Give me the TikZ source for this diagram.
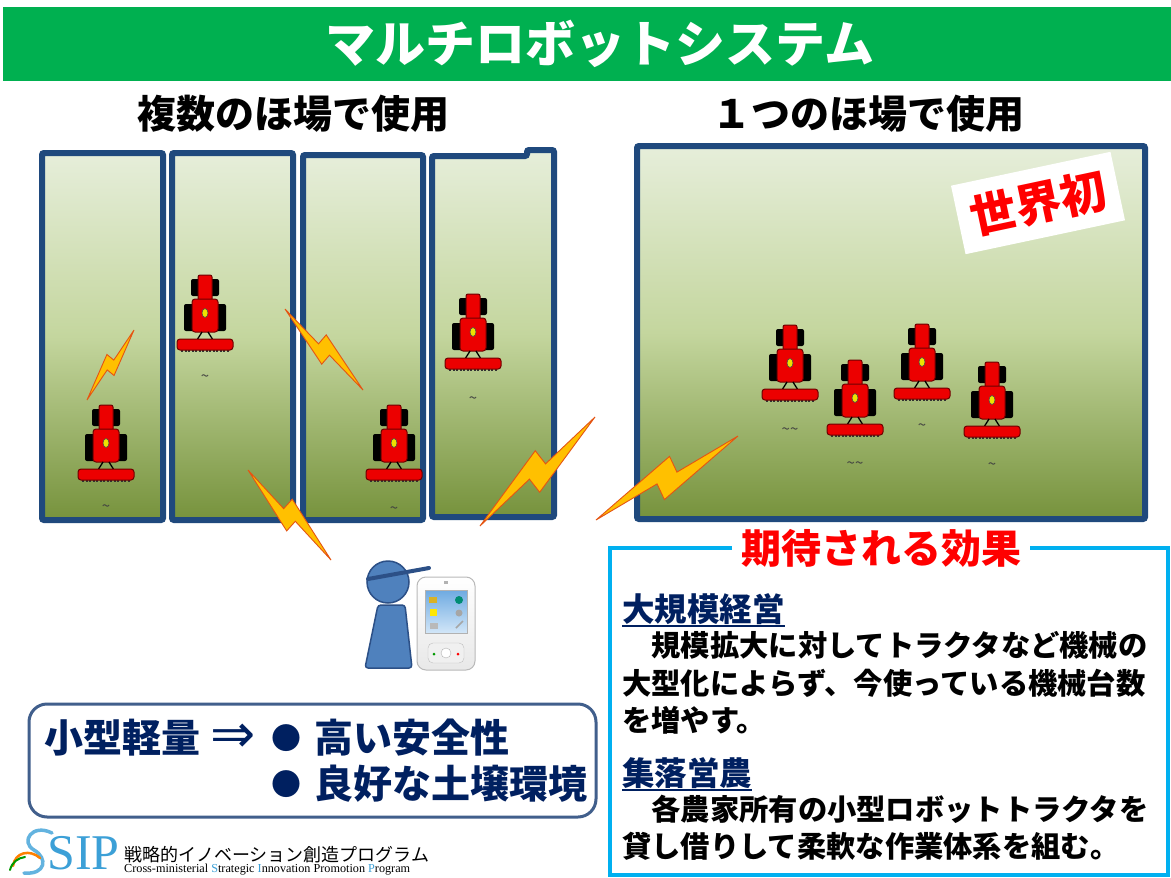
\documentclass[tikz,border=0pt]{standalone}
\usepackage{fontspec}
\setmainfont{Noto Sans CJK JP}
\newfontfamily\serifen{Liberation Serif}
\newfontfamily\symfont{DejaVu Sans}
\usetikzlibrary{calc}

\definecolor{titlegreen}{RGB}{0,176,80}
\definecolor{fieldblue}{RGB}{31,73,125}
\definecolor{fieldtop}{RGB}{230,238,218}
\definecolor{fieldmid}{RGB}{196,214,158}
\definecolor{fieldbot}{RGB}{118,146,60}
\definecolor{navy}{RGB}{0,32,96}
\definecolor{effcyan}{RGB}{0,176,240}
\definecolor{boltfill}{RGB}{255,192,0}
\definecolor{boltedge}{RGB}{228,84,20}
\definecolor{tracred}{RGB}{236,0,0}
\definecolor{tracedge}{RGB}{110,0,0}
\definecolor{persblue}{RGB}{79,129,189}
\definecolor{persedge}{RGB}{44,80,135}
\definecolor{boxedge}{RGB}{65,95,140}
\definecolor{sipblue}{RGB}{60,160,215}
\definecolor{scrtop}{RGB}{110,170,225}
\definecolor{scrbot}{RGB}{210,230,248}

\newcommand{\setpx}[1]{\fontsize{#1}{#1}\selectfont}

% lightning bolt between two tip coordinates; #3/#4 choose the side of the notch
\newcommand{\zapbolt}[4]{%
  \draw[boltshape] (#1) -- ($(#1)!0.58!(#2)!0.25!#3:(#2)$) -- ($(#1)!0.57!(#2)$)
    -- (#2) -- ($(#1)!0.42!(#2)!0.18!#4:(#2)$) -- ($(#1)!0.43!(#2)$) -- cycle;}

\begin{document}
\begin{tikzpicture}[x=1pt,y=-1pt,
  fieldpanel/.style={draw=fieldblue, line width=6pt, rounded corners=2pt,
    top color=fieldtop, bottom color=fieldbot, middle color=fieldmid},
  boltshape/.style={draw=boltedge, line width=0.9pt, fill=boltfill, line join=miter},
  tracpart/.style={draw=tracedge, fill=tracred, line width=1pt},
  tildelabel/.style={font=\setpx{15}, text=black!75, inner sep=0pt},
  bodyline/.style={anchor=west, inner sep=0pt, font=\bfseries\setpx{29.3}},
  headline/.style={anchor=west, inner sep=0pt, font=\bfseries\setpx{32.5}, text=navy},
  tractor/.pic={
    \fill[black, rounded corners=2pt] (-14,-34) rectangle (14,-17);
    \fill[black, rounded corners=2pt] (-21,-9) rectangle (21,18);
    \draw[tracpart, rounded corners=2pt] (-7,-38) rectangle (7,-12);
    \draw[tracpart, rounded corners=3pt] (-13,-14) rectangle (13,19);
    \draw[black, line width=1.3pt] (-3,19) -- (-8,27) (3,19) -- (8,27);
    \draw[black!80, line width=1.5pt, dash pattern=on 2pt off 1.5pt] (-24,38) -- (24,38);
    \draw[tracpart, rounded corners=3pt] (-28,26) rectangle (28,37);
    \draw[black!70, fill=yellow!85!olive, line width=0.6pt] (0,0) ellipse [x radius=3pt, y radius=4.5pt];
  }
]
\useasboundingbox (0,0) rectangle (1171,878);
\fill[white] (0,0) rectangle (1171,878);

% title bar
\fill[titlegreen] (3,7) rectangle (1171,81);
\node[text=white, font=\bfseries\setpx{50}] (title) at (600,44) {マルチロボットシステム};

% section headings
\node[font=\bfseries\setpx{39}] (sub1) at (293,114) {複数のほ場で使用};
\node[font=\bfseries\setpx{39}] (sub2) at (868,114) {１つのほ場で使用};

% small fields
\draw[fieldpanel] (42,153) rectangle (163,520);
\draw[fieldpanel] (172,153) rectangle (293,520);
\draw[fieldpanel] (303,155) rectangle (423,520);
\draw[fieldpanel] (432,156) -- (527,156) -- (527,150) -- (554,150) -- (554,517) -- (432,517) -- cycle;
% large field
\draw[fieldpanel] (637,146) rectangle (1145,519);

% tractors
\pic at (106,443) {tractor};
\pic at (205,313) {tractor};
\pic at (394,443) {tractor};
\pic at (473,332) {tractor};
\pic at (790,363) {tractor};
\pic at (855,398) {tractor};
\pic at (922,362) {tractor};
\pic at (992,400) {tractor};

% soil marks
\node[tildelabel] (m1) at (106,508) {\textasciitilde};
\node[tildelabel] (m2) at (205,378) {\textasciitilde};
\node[tildelabel] (m3) at (394,510) {\textasciitilde};
\node[tildelabel] (m4) at (473,400) {\textasciitilde};
\node[tildelabel] (m5) at (790,431) {\textasciitilde\textasciitilde};
\node[tildelabel] (m6) at (855,465) {\textasciitilde\textasciitilde};
\node[tildelabel] (m7) at (922,427) {\textasciitilde};
\node[tildelabel] (m8) at (992,466) {\textasciitilde};

% radio links
\coordinate (z1a) at (87,400);  \coordinate (z1b) at (134,330);
\coordinate (z2a) at (285,309); \coordinate (z2b) at (363,390);
\coordinate (z3a) at (248,470); \coordinate (z3b) at (331,560);
\coordinate (z4a) at (480,526); \coordinate (z4b) at (595,417);
\coordinate (z5a) at (596,520); \coordinate (z5b) at (738,436);
\zapbolt{z1a}{z1b}{90}{-90}
\zapbolt{z2a}{z2b}{-90}{90}
\zapbolt{z3a}{z3b}{-90}{90}
\zapbolt{z4a}{z4b}{90}{-90}
\zapbolt{z5a}{z5b}{90}{-90}

% world-first badge
\node[fill=white, rotate=12, minimum width=163pt, minimum height=70pt, inner sep=0pt,
      text=red, font=\bfseries\setpx{46}] (sekai) at (1038,203) {世界初};

% operator
\draw[persedge, fill=persblue, line width=1.5pt, rounded corners=3pt]
  (378,605) -- (405,605) -- (412,668) -- (365,668) -- cycle;
\draw[persedge, fill=persblue, line width=1.5pt] (388,582) circle (21pt);
\draw[persedge, line width=4pt, line cap=round] (368,579) -- (429,568);

% handheld terminal
\draw[gray!55, line width=1pt, top color=white, bottom color=gray!18, rounded corners=9pt]
  (417,577) rectangle (475,670);
\fill[gray!60] (444,581) rectangle (448,584);
\draw[gray!60, line width=0.6pt, top color=scrtop, bottom color=scrbot] (425,590) rectangle (467,633);
\fill[brown!60!yellow] (429,597) rectangle (437,603);
\fill[green!55!blue] (459,600) circle (4pt);
\fill[yellow!90!orange] (430,609) rectangle (437,616);
\fill[gray!70] (459,613) circle (3.5pt);
\fill[gray!55] (430,623) rectangle (438,629);
\draw[gray!70, line width=1.5pt] (456,628) -- (463,621);
\draw[gray!50, fill=gray!12, rounded corners=5pt] (428,643) rectangle (464,663);
\draw[gray!60, fill=white] (446,653) circle (5pt);
\fill[green!60!black] (434,654) circle (1.5pt);
\fill[red] (458,654) circle (1.5pt);

% features box
\draw[boxedge, line width=3pt, rounded corners=18pt] (29,704) rectangle (596,817);
\node[anchor=west, inner sep=0pt, text=navy, font=\bfseries\setpx{39}] (small) at (44,738) {小型軽量};
\node[inner sep=0pt, text=navy, font=\symfont\setpx{54}] (arrow) at (233,738) {⇒};
\node[inner sep=0pt, text=navy, font=\setpx{30}] (dot1) at (286,738) {●};
\node[inner sep=0pt, text=navy, font=\setpx{30}] (dot2) at (286,784) {●};
\node[anchor=west, inner sep=0pt, text=navy, font=\bfseries\setpx{39}] (safe) at (314,738) {高い安全性};
\node[anchor=west, inner sep=0pt, text=navy, font=\bfseries\setpx{39}] (soil) at (314,784) {良好な土壌環境};

% expected effects
\draw[effcyan, line width=4pt] (610,548) rectangle (1168,875);
\node[fill=white, inner xsep=9pt, inner ysep=2pt, text=red, font=\bfseries\setpx{40}] (efftitle) at (881,548) {期待される効果};
\node[headline] (h1) at (622,609) {大規模経営};
\draw[navy, line width=1.5pt] ($(h1.south west)+(0,1)$) -- ($(h1.south east)+(0,1)$);
\node[bodyline] (b1) at (622,645) {　規模拡大に対してトラクタなど機械の};
\node[bodyline] (b2) at (622,683) {大型化によらず、今使っている機械台数};
\node[bodyline] (b3) at (622,720) {を増やす。};
\node[headline] (h2) at (622,773) {集落営農};
\draw[navy, line width=1.5pt] ($(h2.south west)+(0,1)$) -- ($(h2.south east)+(0,1)$);
\node[bodyline] (b4) at (622,809) {　各農家所有の小型ロボットトラクタを};
\node[bodyline] (b5) at (622,846) {貸し借りして柔軟な作業体系を組む。};

% programme logo
\draw[sipblue!80, line width=3.5pt, line cap=round] (52,833) .. controls (32,823) and (20,842) .. (34,850)
  .. controls (48,858) and (46,875) .. (24,873);
\draw[orange, line width=2.5pt, line cap=round] (13,866) .. controls (15,852) and (30,849) .. (40,858);
\draw[green!60!black, line width=2pt, line cap=round] (10,870) .. controls (12,862) and (18,858) .. (25,857);
\node[anchor=west, inner sep=0pt, text=sipblue, font=\serifen\setpx{50}] (sip) at (47,853) {SIP};
\node[anchor=west, inner sep=0pt, font=\setpx{18}] (sipjp) at (124,855) {戦略的イノベーション創造プログラム};
\node[anchor=west, inner sep=0pt, font=\serifen\setpx{12.2}] (sipen) at (124,870)
  {Cross-ministerial \textcolor{sipblue}{S}trategic \textcolor{sipblue}{I}nnovation Promotion \textcolor{sipblue}{P}rogram};
\end{tikzpicture}
\end{document}
